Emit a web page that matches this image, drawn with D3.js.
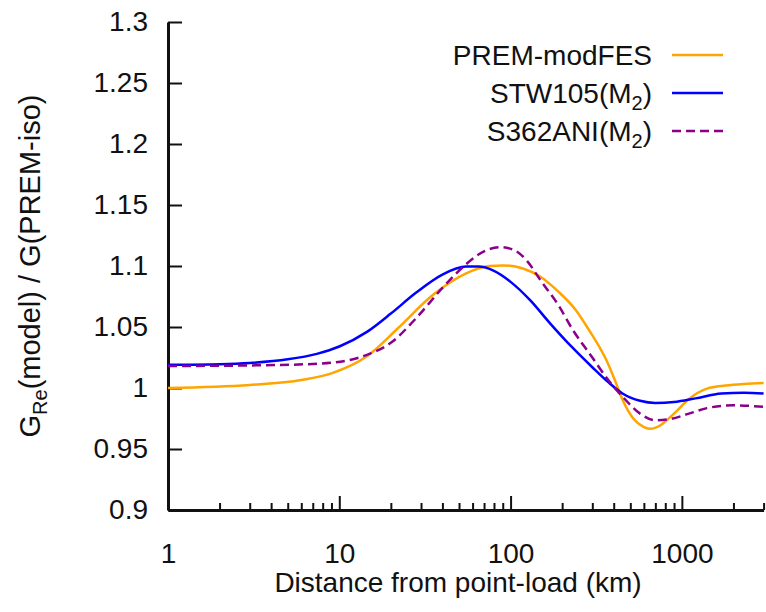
<!DOCTYPE html>
<html>
<head>
<meta charset="utf-8">
<script src="https://cdn.jsdelivr.net/npm/d3@7"></script>
<style>
  body { margin: 0; background: #fff; }
  svg text { font-family: "Liberation Sans", Arial, sans-serif; fill: #111; }
</style>
</head>
<body>
<svg width="766" height="612"></svg>
<script>
// Distances (km) and ratios
const premDist = [1, 3, 6, 9, 14.5, 22, 35, 55, 75, 90, 118, 150, 190, 240, 290, 330, 365, 410, 450, 520, 600, 660, 750, 900, 1100, 1400, 1800, 2300, 3000];
const premVal  = [1.000, 1.0025, 1.0065, 1.012, 1.026, 1.049, 1.076, 1.094, 1.100, 1.1005, 1.098, 1.091, 1.079, 1.064, 1.0465, 1.0336, 1.022, 1.005, 0.9905, 0.975, 0.968, 0.9665, 0.9695, 0.979, 0.991, 0.9995, 1.002, 1.0033, 1.0041];

const stwDist = [1, 2, 3, 5, 7.4, 10, 14.5, 20, 28, 40, 55, 65, 80, 100, 130, 170, 230, 300, 370, 450, 570, 700, 900, 1200, 1700, 2300, 3000];
const stwVal  = [1.019, 1.0195, 1.0205, 1.0235, 1.028, 1.034, 1.046, 1.061, 1.078, 1.093, 1.0995, 1.0995, 1.096, 1.087, 1.072, 1.053, 1.033, 1.017, 1.005, 0.9955, 0.9895, 0.9877, 0.9885, 0.9915, 0.9955, 0.9962, 0.9955];

const s362Dist = [1, 3, 7, 11.5, 15, 20, 28, 40, 55, 70, 87, 105, 125, 150, 190, 230, 300, 365, 450, 570, 700, 850, 1100, 1400, 2000, 3000];
const s362Val  = [1.018, 1.0185, 1.0197, 1.023, 1.028, 1.037, 1.057, 1.082, 1.1015, 1.112, 1.1155, 1.113, 1.104, 1.088, 1.068, 1.048, 1.025, 1.008, 0.993, 0.979, 0.9735, 0.9745, 0.979, 0.9835, 0.9858, 0.9845];

const xTicks = [1, 10, 100, 1000];
const yTicks = [0.9, 0.95, 1, 1.05, 1.1, 1.15, 1.2, 1.25, 1.3];

const seriesNames = ["PREM-modFES", "STW105", "S362ANI"];
const seriesColors = ["#ffa500", "#0000ff", "#8b008b"];
const seriesDash = [null, null, "9,5"];

const svg = d3.select("svg");
const x = d3.scaleLog().domain([1, 3000]).range([168, 763.6]);
const y = d3.scaleLinear().domain([0.9, 1.3]).range([510, 22]);

// minor ticks 2..9 in each decade
const minor = [];
[1, 10, 100, 1000].forEach(d => {
  for (let k = 2; k <= 9; k++) if (d * k <= 3000) minor.push(d * k);
});

// x axis
svg.append("g")
  .attr("transform", "translate(0,510)")
  .call(d3.axisBottom(x).tickValues(minor).tickSize(-7).tickSizeOuter(0).tickFormat(""))
  .call(g => g.select(".domain").remove())
  .call(g => g.selectAll("line").attr("stroke", "#111").attr("stroke-width", 2));

const gx = svg.append("g")
  .attr("transform", "translate(0,510)")
  .call(d3.axisBottom(x).tickValues(xTicks).tickSize(-14).tickSizeOuter(0).tickPadding(33).tickFormat(d3.format("d")));
gx.select(".domain").attr("stroke", "#111").attr("stroke-width", 3);
gx.selectAll("line").attr("stroke", "#111").attr("stroke-width", 2);
gx.selectAll("text").style("font-size", "28px");

// y axis
const gy = svg.append("g")
  .attr("transform", "translate(168,0)")
  .call(d3.axisLeft(y).tickValues(yTicks).tickSize(-14).tickSizeOuter(0).tickPadding(20).tickFormat(d => String(+d.toFixed(2))));
gy.select(".domain").attr("stroke", "#111").attr("stroke-width", 3);
gy.selectAll("line").attr("stroke", "#111").attr("stroke-width", 2);
gy.selectAll("text").style("font-size", "28px");

// axis titles
svg.append("text")
  .attr("x", 458).attr("y", 592)
  .attr("text-anchor", "middle")
  .style("font-size", "28px")
  .text("Distance from point-load (km)");

const yl = svg.append("text")
  .attr("transform", "rotate(-90)")
  .attr("x", -266).attr("y", 40)
  .attr("text-anchor", "middle")
  .style("font-size", "29px");
yl.append("tspan").text("G");
yl.append("tspan").attr("dy", 7).style("font-size", "20px").text("Re");
yl.append("tspan").attr("dy", -7).text("(model) / G(PREM-iso)");

// curves
const line = d3.line()
  .x(d => x(d[0]))
  .y(d => y(d[1]))
  .curve(d3.curveMonotoneX);

const series = [
  d3.zip(premDist, premVal),
  d3.zip(stwDist, stwVal),
  d3.zip(s362Dist, s362Val)
];

series.forEach((s, i) => {
  svg.append("path")
    .datum(s)
    .attr("fill", "none")
    .attr("stroke", seriesColors[i])
    .attr("stroke-width", 2.5)
    .attr("stroke-dasharray", seriesDash[i])
    .attr("d", line);
});

// legend
const rows = [55, 93, 131];
seriesNames.forEach((name, i) => {
  const t = svg.append("text")
    .attr("x", 652).attr("y", rows[i] + 10)
    .attr("text-anchor", "end")
    .style("font-size", "28px");
  t.append("tspan").text(name);
  if (i > 0) {
    t.append("tspan").text("(M");
    t.append("tspan").attr("dy", 7).style("font-size", "20px").text("2");
    t.append("tspan").attr("dy", -7).text(")");
  }
  svg.append("line")
    .attr("x1", 672).attr("x2", 723)
    .attr("y1", rows[i]).attr("y2", rows[i])
    .attr("stroke", seriesColors[i])
    .attr("stroke-width", 2.5)
    .attr("stroke-dasharray", seriesDash[i]);
});
</script>
</body>
</html>
